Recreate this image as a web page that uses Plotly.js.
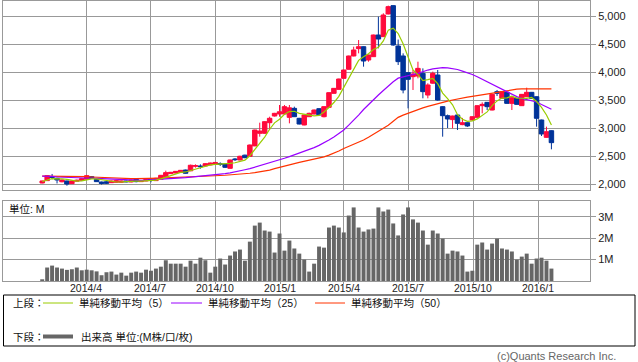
<!DOCTYPE html>
<html>
<head>
<meta charset="utf-8">
<script src="https://cdn.plot.ly/plotly-3.0.1.min.js"></script>
<style>html,body{margin:0;padding:0;background:#fff;}#chart{width:638px;height:362px;}</style>
</head>
<body>
<div id="chart"></div>
<script>
// weekly bars (mid-week dates)
const dates = [
'2014-01-29','2014-02-05','2014-02-12','2014-02-19','2014-02-26','2014-03-05','2014-03-12','2014-03-19','2014-03-26',
'2014-04-02','2014-04-09','2014-04-16','2014-04-23','2014-04-30','2014-05-07','2014-05-14','2014-05-21','2014-05-28',
'2014-06-04','2014-06-11','2014-06-18','2014-06-25','2014-07-02','2014-07-09','2014-07-16','2014-07-23','2014-07-30',
'2014-08-06','2014-08-13','2014-08-20','2014-08-27','2014-09-03','2014-09-10','2014-09-17','2014-09-24','2014-10-01',
'2014-10-08','2014-10-15','2014-10-22','2014-10-29','2014-11-05','2014-11-12','2014-11-19','2014-11-26','2014-12-03',
'2014-12-10','2014-12-17','2014-12-24','2014-12-31','2015-01-07','2015-01-14','2015-01-21','2015-01-28','2015-02-04',
'2015-02-11','2015-02-18','2015-02-25','2015-03-04','2015-03-11','2015-03-18','2015-03-25','2015-04-01','2015-04-08',
'2015-04-15','2015-04-22','2015-04-29','2015-05-06','2015-05-13','2015-05-20','2015-05-27','2015-06-03','2015-06-10',
'2015-06-17','2015-06-24','2015-07-01','2015-07-08','2015-07-15','2015-07-22','2015-07-29','2015-08-05','2015-08-12',
'2015-08-19','2015-08-26','2015-09-02','2015-09-09','2015-09-16','2015-09-23','2015-09-30','2015-10-07','2015-10-14',
'2015-10-21','2015-10-28','2015-11-04','2015-11-11','2015-11-18','2015-11-25','2015-12-02','2015-12-09','2015-12-16',
'2015-12-23','2015-12-30','2016-01-06','2016-01-13','2016-01-20'];

const open = [2018,2060,2131,2101,2040,2054,2006,2050,2066,2085,2131,2083,2036,2040,2024,2030,2030,2054,2036,2083,
2042,2054,2090,2060,2085,2131,2185,2197,2209,2250,2235,2316,2322,2322,2340,2350,2363,2357,2280,2447,
2429,2515,2495,2680,2905,2905,3095,3214,3250,3250,3190,3351,3173,3054,3202,3250,3345,3202,3369,3619,
3690,3887,4048,4286,4417,4452,4214,4274,4661,4631,5036,5185,4464,4286,3988,3917,3928,3976,3589,3800,
3946,3381,3220,3150,3232,3060,3095,3143,3190,3399,3458,3321,3649,3530,3637,3440,3530,3399,3559,3637,
3559,3143,2833,2952];
const high = [2060,2155,2179,2110,2080,2060,2060,2078,2100,2160,2140,2090,2042,2048,2060,2066,2060,2060,2078,2090,
2060,2090,2095,2110,2161,2238,2215,2232,2250,2256,2345,2351,2351,2370,2381,2393,2387,2363,2435,2464,
2505,2524,2705,2970,3095,3120,3202,3270,3411,3411,3411,3381,3180,3240,3274,3330,3351,3387,3637,3714,
3881,4042,4292,4452,4571,4458,4310,4667,4988,5048,5185,5190,4580,4333,4000,4036,4184,4065,3798,4006,
4036,3390,3240,3220,3240,3180,3100,3208,3405,3458,3464,3607,3679,3655,3643,3547,3536,3607,3720,3643,
3565,3149,3024,2960];
const low = [2012,2054,2084,2010,2030,1970,2000,2040,2060,2080,2095,2036,1990,2000,2018,2024,2024,2030,2030,2030,
2036,2048,2030,2054,2080,2125,2180,2190,2200,2185,2230,2292,2274,2316,2335,2345,2322,2286,2274,2411,
2423,2460,2488,2675,2845,2900,2964,3205,3202,3245,3083,3196,3065,3048,3196,3244,3226,3190,3363,3613,
3684,3881,4042,4280,4333,4095,4184,4268,4422,4625,5030,4470,4125,3619,3351,3679,3887,3530,3530,3790,
3488,2845,3000,2994,2964,3050,3020,3137,3184,3262,3321,3315,3571,3524,3434,3321,3416,3393,3553,3524,
3024,2857,2827,2619];
const close = [2054,2149,2119,2072,2072,2000,2054,2066,2095,2149,2101,2042,2010,2012,2054,2060,2054,2040,2071,2042,
2054,2083,2066,2101,2155,2203,2209,2226,2244,2191,2335,2328,2310,2363,2375,2385,2351,2298,2429,2435,
2495,2470,2696,2964,2946,3113,3173,3262,3290,3381,3360,3202,3071,3232,3262,3321,3232,3381,3631,3708,
3875,4036,4286,4393,4452,4196,4304,4661,4589,5018,5167,4482,4185,3679,3869,3964,4065,3649,3768,3976,
3500,3220,3161,3214,3083,3095,3036,3202,3399,3422,3381,3601,3619,3649,3440,3541,3422,3601,3637,3530,
3173,2893,2934,2738];

// simple moving averages as drawn (5 / 25 / 50 weeks)
const ma5 = [2045,2075,2095,2090,2094,2084,2065,2053,2057,2073,2093,2091,2079,2063,2044,2036,2038,2044,2056,2053,
2052,2058,2063,2069,2092,2122,2147,2179,2207,2215,2241,2265,2282,2305,2342,2352,2357,2354,2368,2380,
2402,2425,2505,2612,2714,2838,2978,3092,3157,3244,3293,3299,3261,3249,3225,3218,3224,3286,3365,3455,
3565,3726,3907,4060,4208,4273,4326,4401,4440,4554,4748,4783,4688,4506,4276,4036,3952,3845,3863,3884,
3792,3623,3525,3415,3237,3156,3119,3127,3163,3231,3288,3401,3484,3534,3538,3570,3534,3531,3528,3546,
3473,3367,3233,3054];
const ma25 = [2140,2140,2135,2125,2120,2115,2110,2108,2105,2105,2103,2100,2095,2090,2085,2080,2075,2070,2068,2066,
2066,2070,2074,2078,2082,2090,2096,2102,2108,2114,2122,2130,2140,2148,2156,2165,2175,2185,2200,2215,
2235,2255,2275,2300,2325,2350,2375,2400,2430,2460,2490,2520,2555,2590,2620,2650,2690,2735,2785,2840,
2900,2964,3050,3135,3230,3330,3420,3510,3590,3670,3750,3827,3890,3915,3940,3955,3975,4010,4035,4055,
4070,4078,4075,4065,4045,4015,3990,3955,3915,3870,3820,3775,3730,3685,3635,3595,3560,3530,3505,3490,
3465,3420,3380,3335];
const ma50 = [2140,2140,2140,2140,2140,2140,2140,2140,2135,2130,2125,2120,2115,2112,2108,2104,2100,2097,2095,2095,
2095,2097,2100,2103,2106,2110,2115,2120,2125,2130,2133,2136,2139,2142,2145,2148,2152,2156,2161,2167,
2175,2183,2192,2202,2215,2230,2248,2275,2300,2325,2345,2365,2385,2405,2422,2440,2460,2485,2515,2550,
2590,2635,2670,2705,2745,2786,2835,2885,2935,2990,3050,3120,3190,3230,3265,3300,3330,3360,3385,3410,
3440,3460,3480,3500,3520,3535,3550,3565,3580,3595,3607,3620,3640,3660,3675,3685,3693,3698,3700,3702,
3702,3700,3700,3698];

// volume, millions of shares
const volume = [0.08,0.63,0.72,0.63,0.58,0.52,0.55,0.63,0.50,0.53,0.50,0.45,0.27,0.41,0.44,0.30,0.39,0.25,0.39,0.44,
0.39,0.53,0.48,0.58,0.67,0.97,0.81,0.81,0.81,0.67,0.95,0.81,1.09,0.97,0.39,0.67,1.05,0.77,1.19,1.38,
1.47,0.95,1.84,2.59,2.73,2.36,2.31,1.33,2.22,1.42,1.89,1.52,1.28,1.00,0.44,0.81,1.61,1.56,2.50,2.59,
2.50,2.27,3.06,3.44,2.50,2.31,2.41,2.45,3.44,3.25,3.34,2.69,2.13,3.11,3.44,2.88,2.73,2.36,1.70,2.36,
2.22,1.98,1.28,1.42,1.38,1.19,0.44,0.48,1.70,1.80,1.47,1.75,1.98,1.52,1.47,1.38,1.00,1.14,1.28,0.81,
1.05,1.09,0.95,0.58];

const xTickDates = ['2014-04-01','2014-07-01','2014-10-01','2015-01-01','2015-04-01','2015-07-01','2015-10-01','2016-01-01'];
const xTickLabels = ['2014/4','2014/7','2014/10','2015/1','2015/4','2015/7','2015/10','2016/1'];
const priceTicks = [2000,2500,3000,3500,4000,4500,5000];
const volTicks = [1,2,3];
const volTickLabels = ['1M','2M','3M'];

const legendTop = '上段：';
const legendBottom = '下段：';
const maNames = ['単純移動平均（5）','単純移動平均（25）','単純移動平均（50）'];
const volName = '出来高 単位:(M株/口/枚)';
const unitLabel = '単位: M';
const credit = '(c)Quants Research Inc.';

const C5 = '#99cc00', C25 = '#9900ff', C50 = '#ff3300';
const GRID = '#999999';
const FONT = 'Liberation Sans, Noto Sans CJK JP, sans-serif';
const xRange = ['2013-12-04 11:30', '2016-03-14 15:00'];

// px -> paper helpers (plot area x:3..590, y:1..281)
const px = v => (v - 3) / 587;
const py = v => (281 - v) / 280;

const traces = [
  {type:'candlestick', x:dates, open:open, high:high, low:low, close:close, xaxis:'x', yaxis:'y',
   increasing:{line:{color:'#ff0a3c', width:1}, fillcolor:'#ff0a3c'},
   decreasing:{line:{color:'#003399', width:1}, fillcolor:'#003399'},
   whiskerwidth:0, hoverinfo:'skip'},
  {type:'scatter', mode:'lines', x:dates, y:ma50, xaxis:'x', yaxis:'y', line:{color:C50, width:1.2}, hoverinfo:'skip'},
  {type:'scatter', mode:'lines', x:dates, y:ma25, xaxis:'x', yaxis:'y', line:{color:C25, width:1.2}, hoverinfo:'skip'},
  {type:'scatter', mode:'lines', x:dates, y:ma5, xaxis:'x', yaxis:'y', line:{color:C5, width:1.2}, hoverinfo:'skip'},
  {type:'bar', x:dates, y:volume, xaxis:'x2', yaxis:'y2', marker:{color:'#666666', line:{width:0}}, hoverinfo:'skip'}
];

const axisCommon = {showgrid:true, gridcolor:GRID, gridwidth:1, showline:true, mirror:true, linecolor:GRID, linewidth:1, zeroline:false, fixedrange:true};

const shapes = [
  {type:'rect', xref:'paper', yref:'paper', x0:px(3.5), x1:px(635), y0:py(295), y1:py(346), line:{color:'#000', width:1}},
  {type:'line', xref:'paper', yref:'paper', x0:px(43), x1:px(73), y0:py(303), y1:py(303), line:{color:C5, width:1}},
  {type:'line', xref:'paper', yref:'paper', x0:px(171), x1:px(202), y0:py(303), y1:py(303), line:{color:C25, width:1}},
  {type:'line', xref:'paper', yref:'paper', x0:px(315), x1:px(345), y0:py(303), y1:py(303), line:{color:C50, width:1}},
  {type:'line', xref:'paper', yref:'paper', x0:px(43), x1:px(73), y0:py(336.5), y1:py(336.5), line:{color:'#666666', width:4}}
];

const lf = {family:FONT, size:10.5, color:'#111'};
const annotations = [
  {xref:'paper', yref:'paper', x:px(11), y:py(303), text:legendTop, showarrow:false, xanchor:'left', yanchor:'middle', font:lf},
  {xref:'paper', yref:'paper', x:px(77), y:py(303), text:maNames[0], showarrow:false, xanchor:'left', yanchor:'middle', font:lf},
  {xref:'paper', yref:'paper', x:px(206), y:py(303), text:maNames[1], showarrow:false, xanchor:'left', yanchor:'middle', font:lf},
  {xref:'paper', yref:'paper', x:px(349), y:py(303), text:maNames[2], showarrow:false, xanchor:'left', yanchor:'middle', font:lf},
  {xref:'paper', yref:'paper', x:px(11), y:py(336.5), text:legendBottom, showarrow:false, xanchor:'left', yanchor:'middle', font:lf},
  {xref:'paper', yref:'paper', x:px(79), y:py(336.5), text:volName, showarrow:false, xanchor:'left', yanchor:'middle', font:lf},
  {xref:'paper', yref:'paper', x:px(7), y:py(209), text:unitLabel, showarrow:false, xanchor:'left', yanchor:'middle', font:lf},
  {xref:'paper', yref:'paper', x:px(618), y:py(355.5), text:credit, showarrow:false, xanchor:'right', yanchor:'middle', font:{family:FONT, size:11, color:'#666'}}
];
// x-axis date labels under the volume panel, placed at the axis tick dates
xTickDates.forEach((d, i) => {
  annotations.push({xref:'x2', yref:'paper', x:d, y:py(287.5), text:xTickLabels[i], showarrow:false,
    xanchor:'center', yanchor:'middle', font:{family:FONT, size:10.5, color:'#222'}});
});

const layout = {
  width:638, height:362,
  margin:{l:3, r:48, t:1, b:81, pad:0},
  paper_bgcolor:'#ffffff', plot_bgcolor:'#ffffff',
  showlegend:false,
  font:{family:FONT, size:11, color:'#222'},
  boxgap:0.1, boxgroupgap:0, bargap:0.2,
  xaxis:Object.assign({}, axisCommon, {type:'date', range:xRange, domain:[0,1], anchor:'y',
    tickmode:'array', tickvals:xTickDates, ticktext:xTickLabels, showticklabels:false, ticks:'', rangeslider:{visible:false}}),
  yaxis:Object.assign({}, axisCommon, {domain:[py(190),1], range:[1892.9, 5267.9], side:'right', anchor:'x',
    tickmode:'array', tickvals:priceTicks, tickformat:',d', ticks:'outside', ticklen:5, tickcolor:GRID,
    tickfont:{family:FONT, size:11, color:'#222'}}),
  xaxis2:Object.assign({}, axisCommon, {type:'date', range:xRange, domain:[0,1], anchor:'y2',
    tickmode:'array', tickvals:xTickDates, ticktext:xTickLabels, showticklabels:false, ticks:'outside', ticklen:2, tickcolor:GRID,
    rangeslider:{visible:false}}),
  yaxis2:Object.assign({}, axisCommon, {domain:[0,py(201)], range:[0,3.74], side:'right', anchor:'x2',
    tickmode:'array', tickvals:volTicks, ticktext:volTickLabels, ticks:'outside', ticklen:5, tickcolor:GRID,
    tickfont:{family:FONT, size:11, color:'#222'}}),
  shapes:shapes,
  annotations:annotations
};

Plotly.newPlot('chart', traces, layout, {staticPlot:true, displayModeBar:false});
</script>
</body>
</html>
